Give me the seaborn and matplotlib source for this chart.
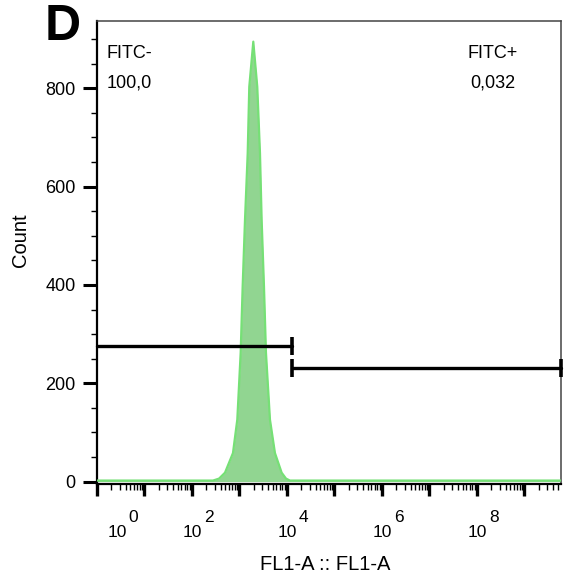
import numpy as np
import pandas as pd
import seaborn as sns
import matplotlib
matplotlib.use("Agg")
import matplotlib.pyplot as plt
from matplotlib.ticker import FixedLocator, MultipleLocator, NullFormatter
import matplotlib.transforms as mtransforms

# ---- data ----
log_fl1 = [0.0, 2.0, 2.442, 2.57, 2.695, 2.863, 2.954, 3.025, 3.067, 3.116, 3.173, 3.206,
           3.291, 3.375, 3.432, 3.467, 3.516, 3.558, 3.642, 3.747, 3.888, 3.98, 4.063, 5.0, 9.77]
counts = [2, 2, 2, 6, 18, 58, 126, 262, 397, 532, 668, 803,
          895, 803, 668, 532, 397, 262, 126, 58, 18, 6, 2, 2, 2]

gate_names = ["FITC-", "FITC+"]
gate_values = ["100,0", "0,032"]
gate_lo = [1.0, 10 ** 4.105]
gate_hi = [10 ** 4.105, 10 ** 9.77]
gate_y = [276, 232]

x_exponents = [0, 2, 4, 6, 8]
y_ticks = [0, 200, 400, 600, 800]

df = pd.DataFrame({"FL1": np.power(10.0, log_fl1), "Count": counts})

# ---- figure ----
sns.set_style("white")
plt.rcParams["font.family"] = ["Liberation Sans", "DejaVu Sans"]
plt.rcParams["text.color"] = "black"
plt.rcParams["xtick.color"] = "black"
plt.rcParams["ytick.color"] = "black"
plt.rcParams["axes.labelcolor"] = "black"

fig = plt.figure(figsize=(5.67, 5.75), dpi=100)
ax = fig.add_axes([97 / 567, 1 - 484 / 575, (561 - 97) / 567, (484 - 21) / 575])

ax.fill_between(df["FL1"], df["Count"], 0, color="#91d591", linewidth=0, zorder=2)
sns.lineplot(data=df, x="FL1", y="Count", ax=ax, color="#76e076", linewidth=1.6,
             zorder=3, sort=False)

for lo, hi, yv in zip(gate_lo, gate_hi, gate_y):
    ax.plot([lo, hi], [yv, yv], color="black", linewidth=2.4, zorder=5, clip_on=False)
    ax.plot([hi], [yv], marker="|", markersize=13, markeredgewidth=2.6,
            color="black", zorder=5, clip_on=False)
    if lo > 1.0:
        ax.plot([lo], [yv], marker="|", markersize=13, markeredgewidth=2.6,
                color="black", zorder=5, clip_on=False)

ax.set_xscale("log")
ax.set_xlim(1, 10 ** 9.77)
ax.set_ylim(-5, 937)

# x ticks
ax.set_xticks([10.0 ** e for e in range(0, 10)])
xlabels = ["10" if e in x_exponents else "" for e in range(0, 10)]
ax.set_xticklabels(xlabels)
ax.xaxis.set_minor_locator(FixedLocator([m * 10.0 ** e for e in range(0, 10) for m in range(2, 10)]))
ax.xaxis.set_minor_formatter(NullFormatter())
ax.tick_params(axis="x", which="major", bottom=True, direction="out", length=8.5, width=2.4,
               pad=21, labelsize=12.5, color="black", labelcolor="black")
ax.tick_params(axis="x", which="minor", bottom=True, direction="out", length=4.5, width=1.0,
               color="black")
# shift 10^0 label right (as in reference)
off = mtransforms.ScaledTranslation(20.5 / 100, 0, fig.dpi_scale_trans)
lbl0 = ax.get_xticklabels()[0]
lbl0.set_transform(lbl0.get_transform() + off)

for e in x_exponents:
    dx = 26 if e == 0 else 12
    ax.annotate(str(e), xy=(10.0 ** e, 0), xycoords=("data", "axes fraction"),
                xytext=(dx, -24), textcoords="offset points",
                ha="center", va="center", fontsize=12.5, annotation_clip=False)

# y ticks
ax.set_yticks(y_ticks)
ax.set_yticklabels([str(v) for v in y_ticks])
ax.yaxis.set_minor_locator(MultipleLocator(50))
ax.tick_params(axis="y", which="major", left=True, direction="out", length=10, width=2.2,
               pad=5.5, labelsize=13, color="black", labelcolor="black")
ax.tick_params(axis="y", which="minor", left=True, direction="out", length=4.5, width=1.0,
               color="black")

for s in ax.spines.values():
    s.set_color("#444444")
    s.set_linewidth(1.1)
ax.spines["left"].set_linewidth(1.6)
ax.spines["bottom"].set_linewidth(1.6)
ax.spines["left"].set_color("black")
ax.spines["bottom"].set_color("black")

ax.set_xlabel("FL1-A :: FL1-A", fontsize=14.5)
ax.set_ylabel("Count", fontsize=14.5)
ax.xaxis.set_label_coords(0.491, -0.153)
ax.yaxis.set_label_coords(-0.145, 0.526)

# gate annotations
fig.text(107 / 567, 1 - 58 / 575, gate_names[0], fontsize=13, ha="left", va="baseline")
fig.text(107 / 567, 1 - 87 / 575, gate_values[0], fontsize=13, ha="left", va="baseline")
fig.text(493 / 567, 1 - 58 / 575, gate_names[1], fontsize=13, ha="center", va="baseline")
fig.text(493 / 567, 1 - 87 / 575, gate_values[1], fontsize=13, ha="center", va="baseline")

fig.text(45 / 567, 1 - 40 / 575, "D", fontsize=36, fontweight="bold", ha="left", va="baseline")

fig.savefig("out.png", dpi=100)
